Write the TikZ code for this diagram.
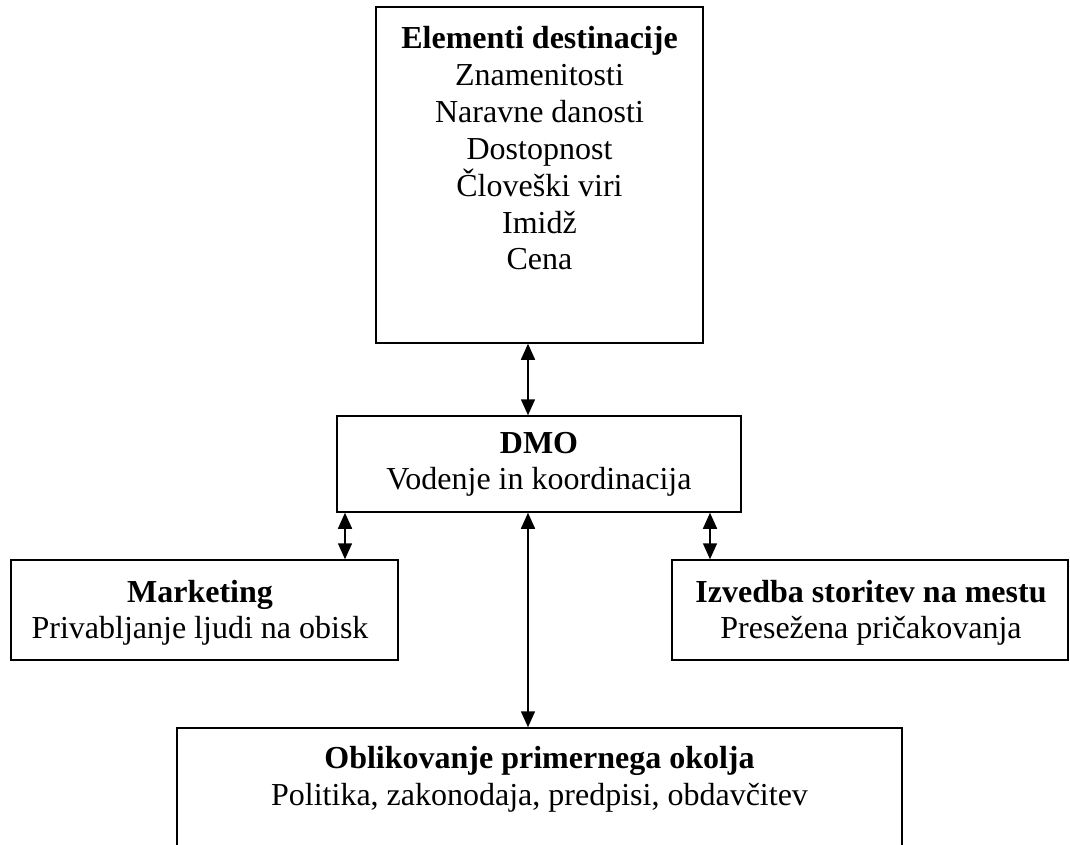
\documentclass[tikz,border=0pt]{standalone}
\usepackage{fontspec}
\setmainfont{Liberation Serif}
\usetikzlibrary{arrows.meta}
\begin{document}
\begin{tikzpicture}[x=1pt,y=-1pt,
  box/.style={draw,line width=1.5pt,inner sep=0pt},
  ln/.style={inner sep=0pt,anchor=base,font=\fontsize{32}{37}\selectfont},
  hd/.style={ln,font=\fontsize{32}{37}\selectfont\bfseries},
  conn/.style={line width=1.5pt,{Triangle[length=16pt,width=14pt]}-{Triangle[length=16pt,width=14pt]}}]
\useasboundingbox (0,0) rectangle (1070,845);
\clip (0,0) rectangle (1070,845);
% boxes
\node[box,minimum width=327pt,minimum height=336pt] (top) at (539.5,175) {};
\node[box,minimum width=404pt,minimum height=96pt] (dmo) at (539,464) {};
\node[box,minimum width=387pt,minimum height=100pt] (mkt) at (204.5,610) {};
\node[box,minimum width=396pt,minimum height=100pt] (izv) at (870,610) {};
\node[box,minimum width=725pt,minimum height=200pt] (obl) at (539.5,828) {};
% texts: top box
\node[hd] (t1) at (539.5,49) {Elementi destinacije};
\node[ln] (t2) at (539.5,85.8) {Znamenitosti};
\node[ln] (t3) at (539.5,122.6) {Naravne danosti};
\node[ln] (t4) at (539.5,159.4) {Dostopnost};
\node[ln] (t5) at (539.5,196.2) {Človeški viri};
\node[ln] (t6) at (539.5,233) {Imidž};
\node[ln] (t7) at (539.5,269.8) {Cena};
% DMO
\node[hd] (d1) at (539,453) {DMO};
\node[ln] (d2) at (539,489) {Vodenje in koordinacija};
% Marketing
\node[hd] (m1) at (200,602) {Marketing};
\node[ln] (m2) at (200,638) {Privabljanje ljudi na obisk};
% Izvedba
\node[hd] (i1) at (871,602) {Izvedba storitev na mestu};
\node[ln] (i2) at (871,638) {Presežena pričakovanja};
% Oblikovanje
\node[hd] (o1) at (539.5,768) {Oblikovanje primernega okolja};
\node[ln] (o2) at (539.5,805) {Politika, zakonodaja, predpisi, obdavčitev};
% connector positions
\coordinate (cx) at (528,0);
\coordinate (lx) at (345,0);
\coordinate (rx) at (710,0);
\draw[conn] (top.south -| cx) -- (dmo.north -| cx);
\draw[conn] (dmo.south -| lx) -- (mkt.north -| lx);
\draw[conn] (dmo.south -| rx) -- (izv.north -| rx);
\draw[conn] (dmo.south -| cx) -- (obl.north -| cx);
\end{tikzpicture}
\end{document}
